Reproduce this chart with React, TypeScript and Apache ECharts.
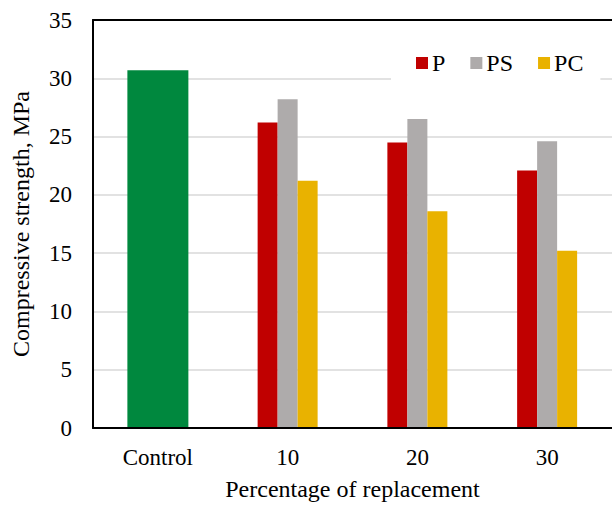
import React, { useEffect, useRef } from "react";
import * as echarts from "echarts";

const categories = ["Control", "10", "20", "30"];
const controlValues = [30.7, "-", "-", "-"];
const pValues = ["-", 26.2, 24.5, 22.1];
const psValues = ["-", 28.2, 26.5, 24.6];
const pcValues = ["-", 21.2, 18.6, 15.2];
const yTicks = { min: 0, max: 35, interval: 5 };

const FONT = "'Liberation Serif', 'Times New Roman', serif";

export default function App() {
  const ref = useRef<HTMLDivElement>(null);
  useEffect(() => {
    if (!ref.current) return;
    const chart = echarts.init(ref.current, undefined, { renderer: "svg" });
    chart.setOption({
      animation: false,
      backgroundColor: "#fff",
      textStyle: { fontFamily: FONT },
      grid: {
        left: 93,
        top: 20,
        right: -3,
        bottom: 76,
        show: false,
        containLabel: false,
      },
      legend: {
        data: ["P", "PS", "PC"],
        left: 391,
        top: 39,
        backgroundColor: "#fff",
        padding: [12, 17, 8, 25],
        itemWidth: 12,
        itemHeight: 12,
        itemGap: 25,
        icon: "rect",
        textStyle: { fontFamily: FONT, fontSize: 24, color: "#000", padding: [0, 0, 0, -1] },
      },
      xAxis: [
        {
          type: "category",
          data: categories,
          axisLine: { lineStyle: { color: "#000", width: 2 } },
          axisTick: { show: false },
          axisLabel: { fontFamily: FONT, fontSize: 23, color: "#000", margin: 18 },
          name: "Percentage of replacement",
          nameLocation: "middle",
          nameGap: 49,
          nameTextStyle: { fontFamily: FONT, fontSize: 24, color: "#000" },
          z: 5,
        },
        {
          type: "category",
          data: categories,
          position: "top",
          axisLine: { show: true, lineStyle: { color: "#000", width: 2 } },
          axisTick: { show: false },
          axisLabel: { show: false },
          splitLine: { show: false },
          z: 5,
        },
      ],
      yAxis: {
        type: "value",
        min: yTicks.min,
        max: yTicks.max,
        interval: yTicks.interval,
        axisLine: { show: true, lineStyle: { color: "#000", width: 2 } },
        axisTick: { show: false },
        splitLine: { lineStyle: { color: "#d9d9d9", width: 1.5 } },
        axisLabel: { fontFamily: FONT, fontSize: 23, color: "#000", margin: 21 },
        name: "Compressive strength, MPa",
        nameLocation: "middle",
        nameGap: 60,
        nameTextStyle: { fontFamily: FONT, fontSize: 24, color: "#000" },
      },
      series: [
        {
          name: "Control",
          type: "bar",
          xAxisIndex: 1,
          data: controlValues,
          barWidth: 61,
          itemStyle: { color: "#00883E" },
        },
        {
          name: "P",
          type: "bar",
          xAxisIndex: 0,
          data: pValues,
          barWidth: 20,
          barGap: "0%",
          itemStyle: { color: "#C00000" },
        },
        {
          name: "PS",
          type: "bar",
          xAxisIndex: 0,
          data: psValues,
          barWidth: 20,
          barGap: "0%",
          itemStyle: { color: "#AEABAB" },
        },
        {
          name: "PC",
          type: "bar",
          xAxisIndex: 0,
          data: pcValues,
          barWidth: 20,
          barGap: "0%",
          itemStyle: { color: "#E9B200" },
        },
      ],
    });
    return () => chart.dispose();
  }, []);
  return (
    <div
      ref={ref}
      style={{ position: "fixed", left: 0, top: 0, width: 612, height: 506 }}
    />
  );
}
